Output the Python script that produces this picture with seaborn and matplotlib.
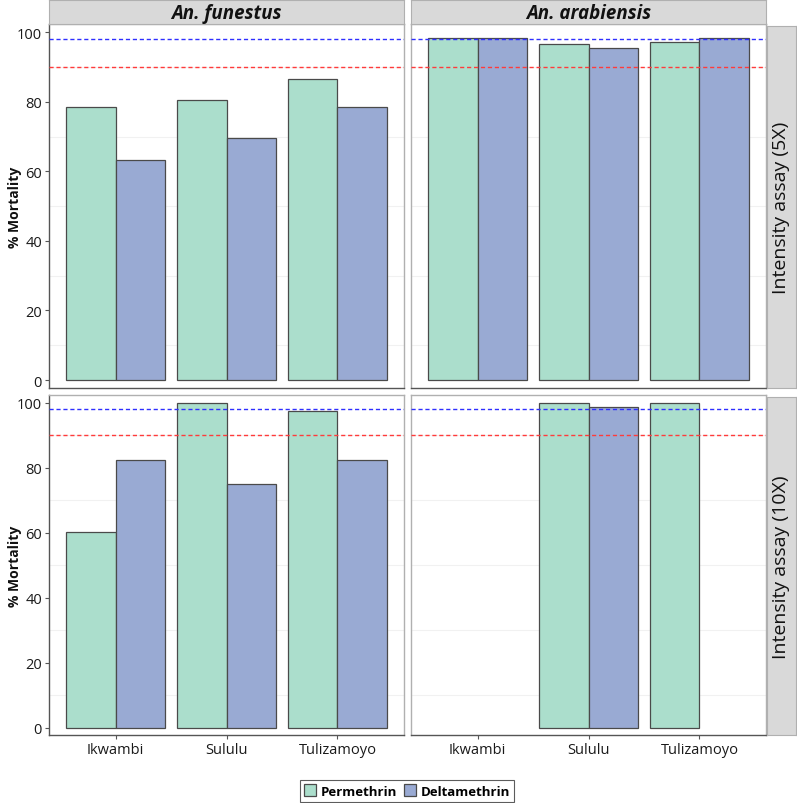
import numpy as np
import pandas as pd
import matplotlib
matplotlib.use("Agg")
import matplotlib.pyplot as plt
from matplotlib.patches import Patch
import seaborn as sns

# ---------------- data ----------------
sites = ["Ikwambi", "Sululu", "Tulizamoyo"]
insecticides = ["Permethrin", "Deltamethrin"]
species = ["An. funestus", "An. arabiensis"]
assays = ["Intensity assay (5X)", "Intensity assay (10X)"]

perm_5x_funestus = [78.4, 80.5, 86.7]
delta_5x_funestus = [63.4, 69.7, 78.4]
perm_5x_arabiensis = [98.5, 96.7, 97.3]
delta_5x_arabiensis = [98.5, 95.6, 98.5]
perm_10x_funestus = [60.3, 100.0, 97.4]
delta_10x_funestus = [82.4, 74.9, 82.5]
perm_10x_arabiensis = [np.nan, 100.0, 100.0]
delta_10x_arabiensis = [np.nan, 98.6, np.nan]

who_susceptible = 98
who_resistant = 90

series = {
    ("Intensity assay (5X)", "An. funestus"): (perm_5x_funestus, delta_5x_funestus),
    ("Intensity assay (5X)", "An. arabiensis"): (perm_5x_arabiensis, delta_5x_arabiensis),
    ("Intensity assay (10X)", "An. funestus"): (perm_10x_funestus, delta_10x_funestus),
    ("Intensity assay (10X)", "An. arabiensis"): (perm_10x_arabiensis, delta_10x_arabiensis),
}

rows = []
for (assay, sp), (perm, delt) in series.items():
    for ins, vals in zip(insecticides, (perm, delt)):
        for s, v in zip(sites, vals):
            rows.append(dict(Assay=assay, Species=sp, Site=s, Insecticide=ins, Mortality=v))
df = pd.DataFrame(rows)

palette = {"Permethrin": "#abdecc", "Deltamethrin": "#99aad3"}

# ---------------- layout ----------------
W, H = 797, 804
plt.rcParams["font.family"] = ["Open Sans", "DejaVu Sans"]
fig = plt.figure(figsize=(W / 100, H / 100), dpi=100)

def fx(px):
    return px / W

def fy(py):
    return 1 - py / H

col_x = [(49, 404), (411, 766)]
row_y = [(25, 389), (396, 736)]

for r, assay in enumerate(assays):
    for c, sp in enumerate(species):
        x0, x1 = col_x[c]
        y0, y1 = row_y[r]
        ax = fig.add_axes([fx(x0), fy(y1), fx(x1 - x0), (y1 - y0) / H])
        sub = df[(df.Assay == assay) & (df.Species == sp)].dropna(subset=["Mortality"])
        for g in [10, 30, 50, 70, 90]:
            ax.axhline(g, color="#f1f1f1", lw=0.8, zorder=0)
        sns.barplot(data=sub, x="Site", y="Mortality", hue="Insecticide",
                    order=sites, hue_order=insecticides, palette=palette,
                    saturation=1, width=0.9, gap=0, errorbar=None,
                    edgecolor="#4a4a4a", linewidth=0.9, legend=False, ax=ax, zorder=2)
        ax.axhline(who_susceptible, color="#2f2fff", lw=1.0, ls=(0, (3, 2)), zorder=3)
        ax.axhline(who_resistant, color="#ff3b3b", lw=1.0, ls=(0, (3, 2)), zorder=3)
        ax.set_xlim(-0.6, 2.6)
        ax.set_ylim(-2.3, 102.4)
        ax.set_xlabel("")
        ax.set_ylabel("")
        ax.set_facecolor("white")
        for name, sp_ in ax.spines.items():
            sp_.set_color("#b0b0b0")
            sp_.set_linewidth(1.0)
        ax.spines["left"].set_color("#555555")
        ax.spines["bottom"].set_color("#555555")
        ax.set_yticks([0, 20, 40, 60, 80, 100])
        ax.tick_params(axis="both", length=3, width=0.8, color="#555555",
                       labelsize=10.5, labelcolor="#1a1a1a", pad=2)
        if c == 1:
            ax.tick_params(axis="y", left=False, labelleft=False)
            ax.spines["left"].set_color("#b0b0b0")
        if r == 0:
            ax.tick_params(axis="x", bottom=False, labelbottom=False)
        # column strip
        if r == 0:
            sax = fig.add_axes([fx(x0), fy(25), fx(x1 - x0), 24 / H])
            sax.set_facecolor("#d9d9d9")
            sax.set_xticks([]); sax.set_yticks([])
            for sp_ in sax.spines.values():
                sp_.set_color("#b0b0b0")
            sax.text(0.5, 0.45, sp, transform=sax.transAxes, ha="center", va="center",
                     fontsize=13.5, fontweight="bold", fontstyle="italic", color="#111111")
    # row strip
    y0, y1 = row_y[r]
    rax = fig.add_axes([fx(767), fy(y1), fx(29), (y1 - y0 - 2) / H])
    rax.set_facecolor("#d9d9d9")
    rax.set_xticks([]); rax.set_yticks([])
    for sp_ in rax.spines.values():
        sp_.set_color("#b0b0b0")
    rax.text(0.5, 0.5, assay, transform=rax.transAxes, ha="center", va="center",
             rotation=90, fontsize=14, color="#111111")
    # y label
    fig.text(fx(15), fy((y0 + y1) / 2), "% Mortality", rotation=90, ha="center",
             va="center", fontsize=10, fontweight="bold", color="#111111")

handles = [Patch(facecolor=palette[i], edgecolor="#4a4a4a", linewidth=0.9) for i in insecticides]
leg = fig.legend(handles, insecticides, loc="center", bbox_to_anchor=(fx(407), fy(792)),
                 ncol=2, frameon=True, fancybox=False, edgecolor="#333333",
                 handlelength=0.9, handleheight=1.0, handletextpad=0.35, columnspacing=0.5,
                 borderpad=0.3, prop={"weight": "bold", "size": 9.5})
leg.get_frame().set_linewidth(0.8)

fig.savefig("out.png", dpi=100, facecolor="white")
